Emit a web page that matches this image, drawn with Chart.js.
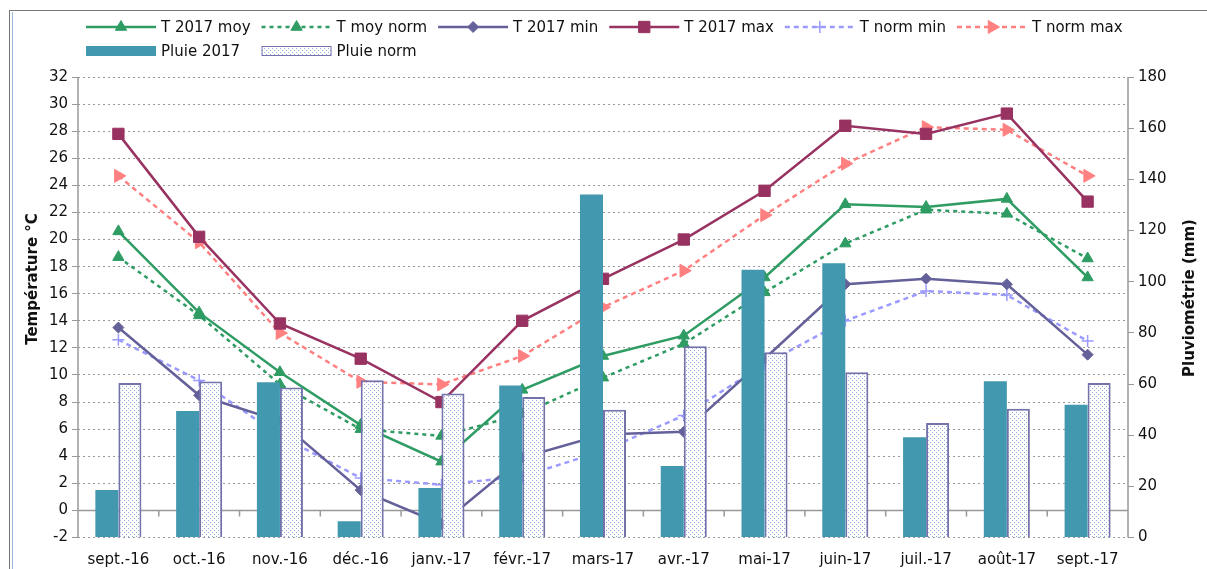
<!DOCTYPE html>
<html>
<head>
<meta charset="utf-8">
<script src="https://cdn.jsdelivr.net/npm/chart.js@4.4.1/dist/chart.umd.min.js"></script>
<style>
  html, body { margin: 0; padding: 0; background: #fff; overflow: hidden; }
  #frame { position: absolute; left: 9px; top: 10px; width: 1400px; height: 800px;
           border-left: 1px solid #777; border-top: 1px solid #777; }
  #inner { position: absolute; left: 12px; top: 12px; width: 0; height: 800px; border-left: 1px solid #9cb8dc; }
  #wrap { position: absolute; left: 0; top: 0; width: 1207px; height: 569px; }
</style>
</head>
<body>
<div id="frame"></div>
<div id="inner"></div>
<div id="wrap"><canvas id="chart" width="1207" height="569"></canvas></div>
<script>
// ---- data ----
const months = ['sept.-16', 'oct.-16', 'nov.-16', 'déc.-16', 'janv.-17', 'févr.-17', 'mars-17',
                'avr.-17', 'mai-17', 'juin-17', 'juil.-17', 'août-17', 'sept.-17'];

const tMoy2017 = [20.6, 14.6, 10.2, 6.3, 3.6, 8.9, 11.4, 12.9, 17.2, 22.6, 22.4, 23.0, 17.2];
const tMoyNorm = [18.7, 14.4, 9.3, 6.0, 5.5, 7.1, 9.8, 12.3, 16.1, 19.7, 22.2, 21.9, 18.6];
const tMin2017 = [13.5, 8.5, 6.6, 1.5, -1.0, 3.9, 5.6, 5.8, 11.2, 16.7, 17.1, 16.7, 11.5];
const tMax2017 = [27.8, 20.2, 13.8, 11.2, 8.0, 14.0, 17.1, 20.0, 23.6, 28.4, 27.8, 29.3, 22.8];
const tNormMin = [12.6, 9.6, 5.5, 2.4, 1.9, 2.5, 4.4, 7.0, 10.8, 14.0, 16.2, 15.9, 12.5];
const tNormMax = [24.7, 19.8, 13.1, 9.5, 9.3, 11.4, 15.0, 17.7, 21.8, 25.6, 28.3, 28.1, 24.7];

const pluie2017 = [18.6, 49.4, 60.7, 6.4, 19.3, 59.4, 134.1, 27.9, 104.7, 107.2, 39.2, 61.1, 51.9];
const pluieNorm = [60.4, 61.0, 58.6, 61.5, 56.3, 54.9, 49.9, 74.8, 72.4, 64.6, 44.8, 50.3, 60.4];

const tempRange = { min: -2, max: 32, step: 2 };
const rainRange = { min: 0, max: 180, step: 20 };

const FONT = 'DejaVu Sans';
const TXT = '#111';
const GREEN = '#2E9C63';
const PURPLE = '#646099';
const MAROON = '#983261';
const LILAC = '#9A9AFF';
const SALMON = '#FF8080';
const TEAL = '#4298AE';
const NORM_BORDER = '#7472AA';

// small dotted fill used by the "Pluie norm" bars
function makeDotPattern() {
  const c = document.createElement('canvas');
  c.width = 4; c.height = 4;
  const g = c.getContext('2d');
  g.fillStyle = '#ffffff';
  g.fillRect(0, 0, 4, 4);
  g.fillStyle = '#8aa8e6';
  g.fillRect(0, 0, 1, 1);
  g.fillRect(2, 2, 1, 1);
  return g.createPattern(c, 'repeat');
}
const dots = makeDotPattern();

function lineSet(label, data, color, dash, style, radius, rotation) {
  return {
    type: 'line', label, data, yAxisID: 'y', order: 1,
    borderColor: color, backgroundColor: color, borderWidth: 2.5, borderDash: dash,
    pointStyle: style, pointRadius: radius, pointRotation: rotation || 0,
    pointBackgroundColor: color, pointBorderColor: color, pointBorderWidth: style === 'cross' ? 1.5 : 1,
    tension: 0, fill: false
  };
}

const datasets = [
  lineSet('T 2017 moy', tMoy2017, GREEN, [], 'triangle', 6.5),
  lineSet('T moy norm', tMoyNorm, GREEN, [4, 4], 'triangle', 6.5),
  lineSet('T 2017 min', tMin2017, PURPLE, [], 'rectRot', 5.5),
  lineSet('T 2017 max', tMax2017, MAROON, [], 'rect', 8),
  lineSet('T norm min', tNormMin, LILAC, [5, 4], 'cross', 6),
  lineSet('T norm max', tNormMax, SALMON, [5, 4], 'triangle', 7.5, 90),
  { type: 'bar', label: 'Pluie 2017', data: pluie2017, yAxisID: 'y2', order: 0,
    backgroundColor: TEAL, borderWidth: 0 },
  { type: 'bar', label: 'Pluie norm', data: pluieNorm, yAxisID: 'y2', order: 0,
    backgroundColor: dots, borderColor: NORM_BORDER, borderWidth: 2 }
];

// axis lines, zero line and the little category ticks on it
const axesPlugin = {
  id: 'axesLines',
  beforeDatasetsDraw(chart) {
    const { ctx, chartArea: a, scales } = chart;
    const y0 = scales.y.getPixelForValue(0);
    ctx.save();
    ctx.strokeStyle = '#999';
    ctx.lineWidth = 1.5;
    ctx.beginPath();
    ctx.moveTo(a.left, a.top); ctx.lineTo(a.left, a.bottom);
    ctx.moveTo(a.right, a.top); ctx.lineTo(a.right, a.bottom);
    ctx.moveTo(a.left, y0); ctx.lineTo(a.right, y0);
    const n = months.length;
    for (let i = 1; i < n; i++) {
      const x = (scales.x.getPixelForValue(i - 1) + scales.x.getPixelForValue(i)) / 2;
      ctx.moveTo(x, y0); ctx.lineTo(x, y0 + 6);
    }
    ctx.stroke();
    ctx.restore();
  }
};

// legend in two rows, Excel style, plus the two axis titles
const legendPlugin = {
  id: 'excelLegend',
  afterDraw(chart) {
    const ctx = chart.ctx;
    const sampleW = 70;
    ctx.save();
    ctx.font = '15px "' + FONT + '"';
    ctx.textBaseline = 'middle';
    ctx.fillStyle = TXT;

    const lineItems = datasets.filter(d => d.type === 'line');
    const barItems = datasets.filter(d => d.type === 'bar');
    const cols = [];
    let x = 86;
    const row1 = 27, row2 = 51;

    lineItems.forEach(d => {
      cols.push(x);
      ctx.save();
      ctx.strokeStyle = d.borderColor;
      ctx.lineWidth = 2.5;
      ctx.setLineDash(d.borderDash);
      ctx.beginPath();
      ctx.moveTo(x, row1); ctx.lineTo(x + sampleW, row1);
      ctx.stroke();
      ctx.setLineDash([]);
      ctx.fillStyle = d.borderColor;
      ctx.lineWidth = d.pointBorderWidth;
      Chart.helpers.drawPoint(ctx, {
        pointStyle: d.pointStyle, rotation: d.pointRotation,
        radius: d.pointRadius, borderWidth: d.pointBorderWidth
      }, x + sampleW / 2, row1);
      ctx.restore();
      ctx.fillStyle = TXT;
      ctx.fillText(d.label, x + sampleW + 5, row1 + 1);
      x += sampleW + 5 + ctx.measureText(d.label).width + 11;
    });

    barItems.forEach((d, i) => {
      const bx = cols[i];
      ctx.fillStyle = d.backgroundColor;
      ctx.fillRect(bx, row2 - 5, sampleW, 10);
      if (d.borderWidth) {
        ctx.strokeStyle = d.borderColor;
        ctx.lineWidth = 1;
        ctx.strokeRect(bx + 0.5, row2 - 4.5, sampleW - 1, 9);
      }
      ctx.fillStyle = TXT;
      ctx.fillText(d.label, bx + sampleW + 5, row2 + 1);
    });

    // axis titles, both reading bottom to top
    ctx.font = 'bold 15px "' + FONT + '"';
    ctx.textAlign = 'center';
    ctx.save();
    ctx.translate(33, 279);
    ctx.rotate(-Math.PI / 2);
    ctx.fillText('Température °C', 0, 0);
    ctx.restore();
    ctx.save();
    ctx.translate(1190, 298);
    ctx.rotate(-Math.PI / 2);
    ctx.fillText('Pluviométrie (mm)', 0, 0);
    ctx.restore();
    ctx.restore();
  }
};

new Chart(document.getElementById('chart'), {
  data: { labels: months, datasets },
  options: {
    responsive: false,
    animation: false,
    layout: { padding: { top: 77, left: 0, right: 0, bottom: 0 } },
    plugins: { legend: { display: false }, tooltip: { enabled: false } },
    datasets: { bar: { categoryPercentage: 0.57, barPercentage: 1.0 } },
    scales: {
      x: {
        type: 'category',
        offset: true,
        grid: { display: false },
        border: { display: false },
        ticks: { color: TXT, font: { family: FONT, size: 15 }, padding: 6, maxRotation: 0, autoSkip: false },
        afterFit: s => { s.height = 31.5; }
      },
      y: {
        position: 'left',
        min: tempRange.min, max: tempRange.max,
        ticks: { stepSize: tempRange.step, color: TXT, font: { family: FONT, size: 15 }, padding: 4 },
        grid: { color: '#9a9a9a', lineWidth: 1, drawTicks: true, tickLength: 6, tickColor: '#999', tickBorderDash: [] },
        border: { display: false, dash: [2, 3] },
        afterFit: s => { s.width = 78; }
      },
      y2: {
        position: 'right',
        min: rainRange.min, max: rainRange.max,
        ticks: { stepSize: rainRange.step, color: TXT, font: { family: FONT, size: 15 }, padding: 4 },
        grid: { drawOnChartArea: false, drawTicks: true, tickLength: 6, tickColor: '#999' },
        border: { display: false },
        afterFit: s => { s.width = 79; }
      }
    }
  },
  plugins: [axesPlugin, legendPlugin]
});
</script>
</body>
</html>
